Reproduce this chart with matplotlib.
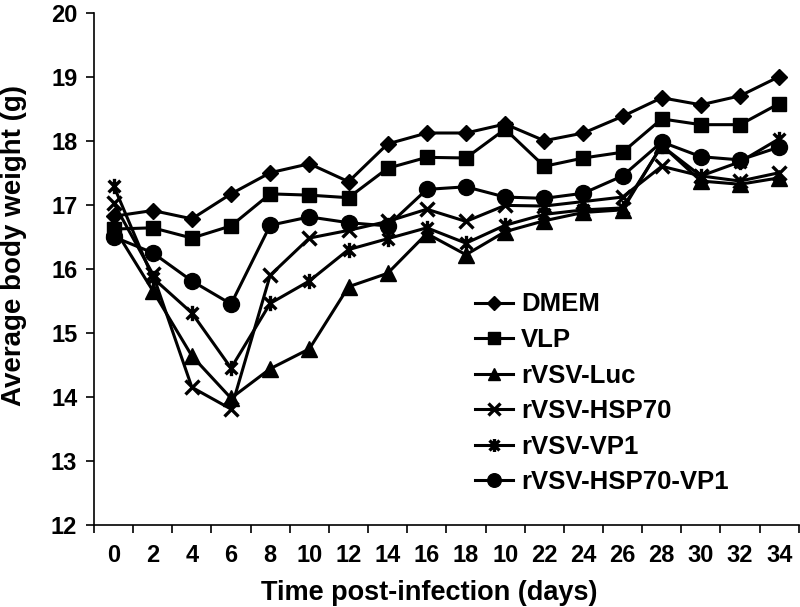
import matplotlib
matplotlib.use("Agg")
import matplotlib.pyplot as plt
import numpy as np
from matplotlib.path import Path

plt.rcParams["font.family"] = ["Liberation Sans", "DejaVu Sans"]
plt.rcParams["font.weight"] = "bold"

DAY_LABELS = ["0", "2", "4", "6", "8", "10", "12", "14", "16", "18",
              "10", "22", "24", "26", "28", "30", "32", "34"]

DMEM = [16.82, 16.91, 16.78, 17.17, 17.50, 17.64, 17.36, 17.95, 18.12, 18.12,
        18.26, 18.00, 18.12, 18.38, 18.67, 18.56, 18.70, 19.00]
VLP = [16.62, 16.64, 16.48, 16.67, 17.17, 17.15, 17.11, 17.57, 17.74, 17.73,
       18.18, 17.60, 17.73, 17.82, 18.34, 18.25, 18.25, 18.58]
LUC = [16.65, 15.66, 14.64, 13.98, 14.44, 14.75, 15.72, 15.93, 16.55, 16.22,
       16.58, 16.75, 16.88, 16.92, 17.93, 17.37, 17.32, 17.42]
HSP70 = [17.03, 15.92, 14.15, 13.81, 15.90, 16.48, 16.60, 16.74, 16.93, 16.74,
         16.99, 16.98, 17.05, 17.12, 17.60, 17.45, 17.37, 17.50]
VP1 = [17.30, 15.86, 15.31, 14.45, 15.46, 15.81, 16.30, 16.47, 16.64, 16.40,
       16.68, 16.85, 16.92, 16.95, 17.92, 17.45, 17.67, 18.03]
HSP70_VP1 = [16.50, 16.25, 15.81, 15.45, 16.68, 16.81, 16.72, 16.67, 17.24, 17.28,
             17.12, 17.10, 17.18, 17.45, 17.98, 17.75, 17.70, 17.90]

# Excel-style star: an X with a vertical bar through it
STAR = Path([(-1, -1), (1, 1), (-1, 1), (1, -1), (0, -1.3), (0, 1.3)],
            [Path.MOVETO, Path.LINETO, Path.MOVETO, Path.LINETO,
             Path.MOVETO, Path.LINETO])

SERIES = [
    ("DMEM", DMEM, "D", 8.5),
    ("VLP", VLP, "s", 10.5),
    ("rVSV-Luc", LUC, "^", 11),
    ("rVSV-HSP70", HSP70, "x", 10.5),
    ("rVSV-VP1", VP1, STAR, 11),
    ("rVSV-HSP70-VP1", HSP70_VP1, "o", 11.5),
]

fig = plt.figure(figsize=(8.0, 6.07), dpi=100)
ax = fig.add_axes([0.1175, 0.135, 0.881, 0.8443])

x = np.arange(len(DAY_LABELS))
for name, vals, mk, ms in SERIES:
    thin = mk is STAR or mk == "x"
    ax.plot(x, vals, color="black", lw=2.2, marker=mk, ms=ms,
            mew=2.4 if thin else 1.0,
            mfc="black", mec="black", label=name)

ax.set_xlim(-0.5, len(DAY_LABELS) - 0.5)
ax.set_ylim(12, 20)
ax.set_yticks(np.arange(12, 21, 1))
ax.set_xticks(np.arange(-0.5, len(DAY_LABELS), 1))
ax.set_xticklabels([])
ax.set_xticks(x, minor=True)
ax.set_xticklabels(DAY_LABELS, minor=True, fontsize=17, fontweight="bold")
ax.tick_params(axis="x", which="major", direction="out", length=6, width=1.2)
ax.tick_params(axis="x", which="minor", length=0, pad=14)
ax.tick_params(axis="y", direction="out", length=6, width=1.2, labelsize=17, pad=6)
for lab in ax.get_yticklabels():
    lab.set_fontweight("bold")

for side in ("top", "right"):
    ax.spines[side].set_visible(False)
for side in ("left", "bottom"):
    ax.spines[side].set_linewidth(1.2)

ax.set_xlabel("Time post-infection (days)", fontsize=19.5, fontweight="bold")
ax.set_ylabel("Average body weight (g)", fontsize=20, fontweight="bold")
ax.xaxis.set_label_coords(0.475, -0.108)
ax.yaxis.set_label_coords(-0.095, 0.546)

leg = ax.legend(loc="lower left", bbox_to_anchor=(0.54, 0.06), frameon=False,
                prop={"size": 18.5, "weight": "bold"}, handlelength=1.5,
                handletextpad=0.3, labelspacing=0.45, borderaxespad=0,
                borderpad=0, markerscale=0.85)

fig.savefig("out.png", dpi=100)
